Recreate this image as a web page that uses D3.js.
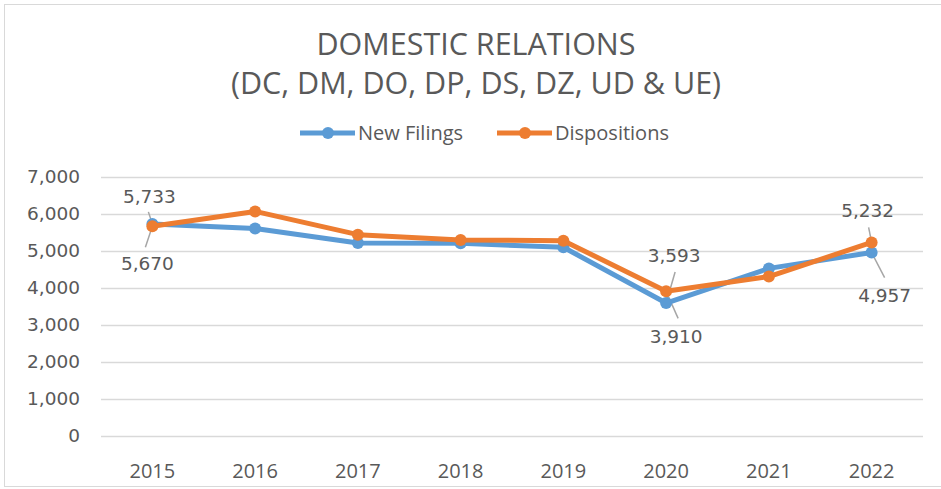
<!DOCTYPE html>
<html>
<head>
<meta charset="utf-8">
<script src="https://cdn.jsdelivr.net/npm/d3@7"></script>
<style>
  body { margin: 0; background: #fff; }
  svg { display: block; }
</style>
</head>
<body>
<div id="chart"></div>
<script>
var years = ["2015", "2016", "2017", "2018", "2019", "2020", "2021", "2022"];
var newFilings = [5733, 5610, 5216, 5208, 5100, 3593, 4530, 4957];
var dispositions = [5670, 6070, 5441, 5297, 5279, 3910, 4310, 5232];
var yTicks = [0, 1000, 2000, 3000, 4000, 5000, 6000, 7000];
var titleLines = ["DOMESTIC RELATIONS", "(DC, DM, DO, DP, DS, DZ, UD & UE)"];
var seriesNames = ["New Filings", "Dispositions"];
// points that carry a data label (series index + year)
var labeledPoints = [
  {series: 0, year: "2015"},
  {series: 1, year: "2015"},
  {series: 0, year: "2020"},
  {series: 1, year: "2020"},
  {series: 1, year: "2022"},
  {series: 0, year: "2022"}
];
// label placement relative to its point: dx, dy of the text baseline, and where the leader starts
var LABEL_OFFSETS = [
  {dx: -3, dy: -21, lx: -4, ly: -12},
  {dx: -5, dy: 44, lx: -7, ly: 21},
  {dx: 8, dy: -41, lx: 9, ly: -31},
  {dx: 10, dy: 52, lx: 12, ly: 27},
  {dx: -4, dy: -25, lx: -3, ly: -15},
  {dx: 13, dy: 49, lx: 13, ly: 25}
];

var WIDTH = 941, HEIGHT = 489;
var COLORS = ["#5b9bd5", "#ed7d31"];
var TEXT_COLOR = "#595959";

var svg = d3.select("#chart").append("svg")
    .attr("width", WIDTH)
    .attr("height", HEIGHT);

//chart area border
svg.append("rect")
    .attr("x", 4.5).attr("y", 4.5)
    .attr("width", WIDTH + 10).attr("height", 482)
    .attr("fill", "#fff")
    .attr("stroke", "#d9d9d9");

var x = d3.scaleBand().domain(years).range([101, 923]);
var y = d3.scaleLinear().domain([0, 7000]).range([436, 177]);
function cx(d) { return x(d) + x.bandwidth() / 2; }

//title
svg.selectAll(".title")
  .data(titleLines)
  .enter()
  .append("text")
    .attr("class", "title")
    .attr("x", 476)
    .attr("y", function(d, i) { return 55 + i * 39; })
    .attr("text-anchor", "middle")
    .attr("font-family", "'Open Sans', sans-serif")
    .attr("font-size", 30.5)
    .attr("fill", TEXT_COLOR)
    .text(function(d) { return d; });

//gridlines
svg.append("g")
    .attr("transform", "translate(101,0)")
    .call(d3.axisLeft(y).tickValues(yTicks).tickSize(-(923 - 101)).tickFormat(""))
    .call(function(g) {
      g.select(".domain").remove();
      g.selectAll("line").attr("stroke", "#d9d9d9").attr("stroke-width", 1.3);
    });

//y tick labels
svg.append("g")
    .attr("transform", "translate(80,0)")
    .call(d3.axisLeft(y).tickValues(yTicks).tickSize(0).tickPadding(0).tickFormat(d3.format(",")))
    .call(function(g) {
      g.select(".domain").remove();
      g.selectAll("text")
        .attr("font-family", "'DejaVu Sans', Verdana, sans-serif")
        .attr("font-size", 18.5)
        .attr("fill", TEXT_COLOR);
    });

//x tick labels
svg.append("g")
    .attr("transform", "translate(0,436)")
    .call(d3.axisBottom(x).tickSize(0).tickPadding(28))
    .call(function(g) {
      g.select(".domain").remove();
      g.selectAll("text")
        .attr("font-family", "'Open Sans', sans-serif")
        .attr("font-size", 20)
        .attr("fill", TEXT_COLOR);
    });

var allSeries = [newFilings, dispositions];
var line = d3.line()
    .x(function(d, i) { return cx(years[i]); })
    .y(function(d) { return y(d); });

//leader lines go under the series
var leaderG = svg.append("g");

allSeries.forEach(function(values, s) {
  var g = svg.append("g").attr("class", "series");
  g.append("path")
    .datum(values)
    .attr("d", line)
    .attr("fill", "none")
    .attr("stroke", COLORS[s])
    .attr("stroke-width", 5)
    .attr("stroke-linejoin", "round")
    .attr("stroke-linecap", "round");
  g.selectAll("circle")
    .data(values)
    .enter()
    .append("circle")
    .attr("cx", function(d, i) { return cx(years[i]); })
    .attr("cy", function(d) { return y(d); })
    .attr("r", 6)
    .attr("fill", COLORS[s]);
});

//data labels
var labelG = svg.append("g");
labeledPoints.forEach(function(p, k) {
  var i = years.indexOf(p.year);
  var v = allSeries[p.series][i];
  var px = cx(p.year), py = y(v);
  var o = LABEL_OFFSETS[k];
  leaderG.append("line")
    .attr("x1", px).attr("y1", py)
    .attr("x2", px + o.lx).attr("y2", py + o.ly)
    .attr("stroke", "#a6a6a6")
    .attr("stroke-width", 1.5);
  labelG.append("text")
    .attr("x", px + o.dx)
    .attr("y", py + o.dy)
    .attr("text-anchor", "middle")
    .attr("font-family", "'DejaVu Sans', Verdana, sans-serif")
    .attr("font-size", 18.5)
    .attr("fill", TEXT_COLOR)
    .text(d3.format(",")(v));
});

//legend
var legendX = [300, 497];
seriesNames.forEach(function(name, s) {
  var g = svg.append("g").attr("transform", "translate(" + legendX[s] + ",133)");
  g.append("line")
    .attr("x1", 0).attr("x2", 55)
    .attr("stroke", COLORS[s]).attr("stroke-width", 5);
  g.append("circle").attr("cx", 28).attr("r", 6).attr("fill", COLORS[s]);
  g.append("text")
    .attr("x", 58).attr("y", 7)
    .attr("font-family", "'Open Sans', sans-serif")
    .attr("font-size", 20)
    .attr("fill", TEXT_COLOR)
    .text(name);
});
</script>
</body>
</html>
